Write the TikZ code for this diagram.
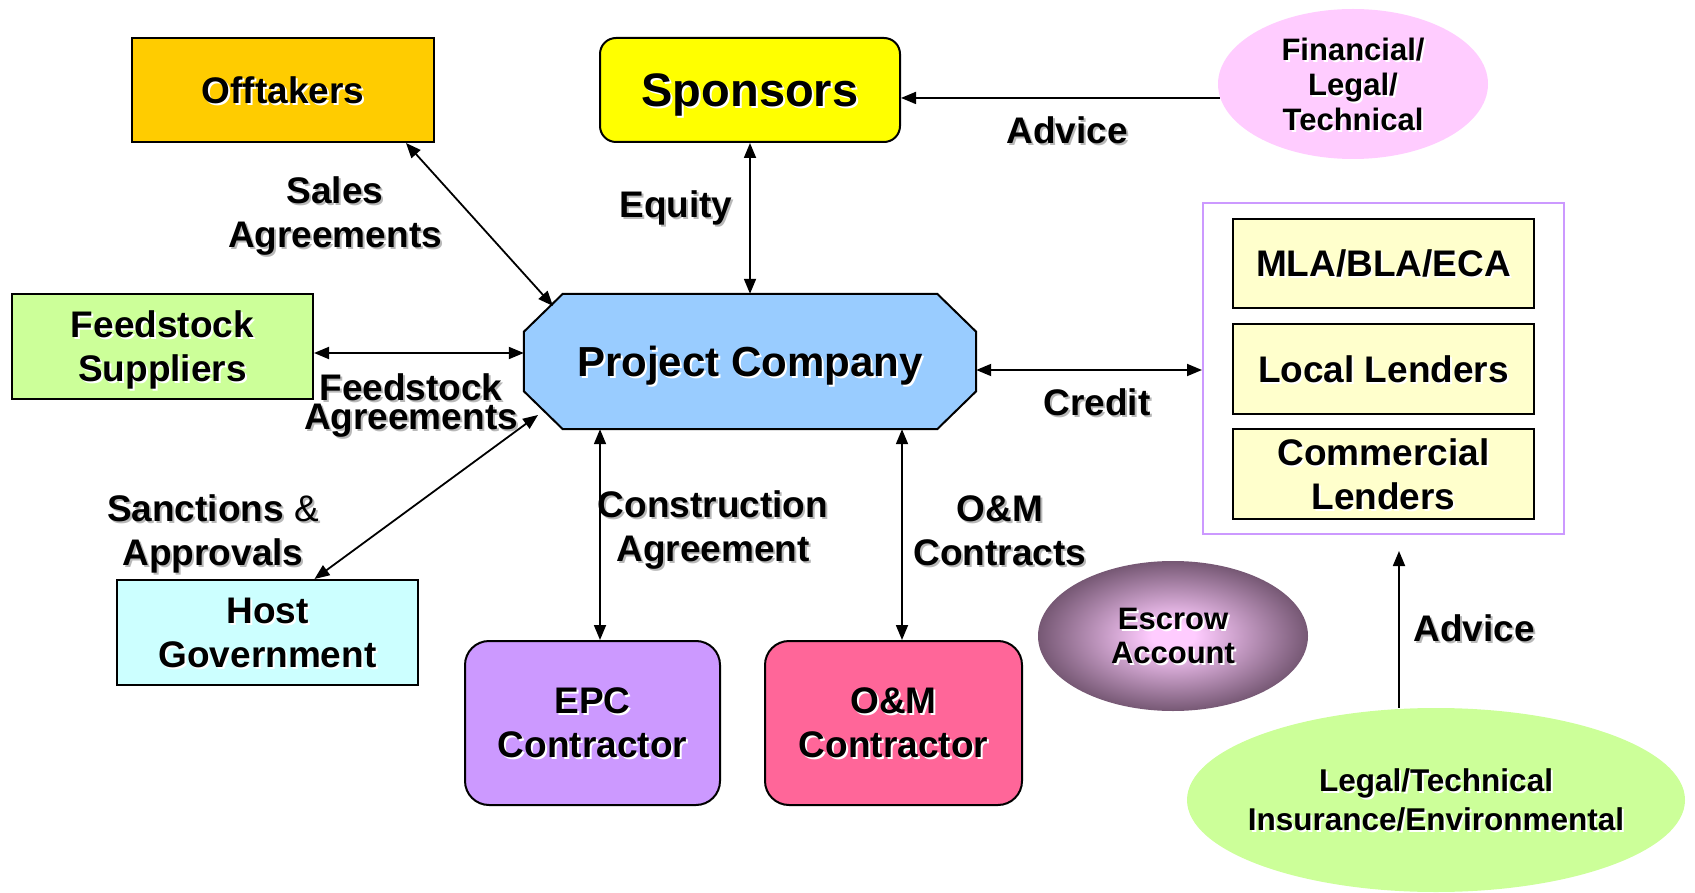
\documentclass[tikz,border=0pt]{standalone}
\usepackage{fontspec}
\setmainfont{Liberation Sans}
\usetikzlibrary{arrows.meta,shapes.geometric}

\definecolor{offc}{HTML}{FFCC00}
\definecolor{sponc}{HTML}{FFFF00}
\definecolor{finc}{HTML}{FFCCFF}
\definecolor{pcc}{HTML}{99CCFF}
\definecolor{feedc}{HTML}{CCFF99}
\definecolor{hostc}{HTML}{CCFFFF}
\definecolor{epcc}{HTML}{CC99FF}
\definecolor{omc}{HTML}{FF6699}
\definecolor{lendc}{HTML}{FFFFCC}
\definecolor{framec}{HTML}{CC99FF}
\definecolor{escin}{HTML}{FFCCFF}
\definecolor{escout}{HTML}{765874}
\definecolor{legalc}{HTML}{CCFF99}
\colorlet{txtshadow}{black!28}

% radial glow for the escrow ellipse
\pgfdeclareradialshading{escrowglow}{\pgfpoint{0bp}{0bp}}{%
  color(0bp)=(escin); color(4bp)=(escin); color(25bp)=(escout); color(50bp)=(escout)}

% text with a soft drop shadow
\newcommand\sh[1]{\leavevmode\rlap{\kern2pt\raisebox{-2pt}{\color{txtshadow}#1}}#1}

\begin{document}
\begin{tikzpicture}[x=1pt,y=-1pt,
  base/.style={font=\bfseries\fontsize{37}{44}\selectfont, align=center, inner sep=0pt, text=black},
  boxed/.style={base, draw=black, line width=2pt, text depth=0pt,
    execute at begin node={\colorlet{txtshadow}{white}}},
  blob/.style={base, ellipse, draw=none, text depth=0pt,
    execute at begin node={\colorlet{txtshadow}{white}}},
  inside/.style={base, text depth=0pt,
    execute at begin node={\colorlet{txtshadow}{white}}},
  lbl/.style={base},
  tip/.tip={Triangle[length=15pt,width=12pt]},
  both/.style={line width=1.8pt, tip-tip},
  one/.style={line width=1.8pt, -tip}]

\useasboundingbox (0,0) rectangle (1695,893);

% ---- parties ----
\node[boxed, fill=offc, minimum width=302, minimum height=104] (off) at (283,90) {\sh{Offtakers}};
\node[boxed, fill=sponc, rounded corners=16, minimum width=300, minimum height=104,
      font=\bfseries\fontsize{47}{52}\selectfont] (spon) at (750,90) {\sh{Sponsors}};
\node[blob, fill=finc, minimum width=270, minimum height=150,
      font=\bfseries\fontsize{31}{35}\selectfont] (fin) at (1353,84) {\sh{Financial/}\\\sh{Legal/}\\\sh{Technical}};

% project company: octagon around a plain frame node
\node[minimum width=452, minimum height=135, inner sep=0pt] (pc) at (750,361.5) {};
\draw[fill=pcc, line width=2pt]
  ([xshift=39pt]pc.north west) -- ([xshift=-39pt]pc.north east)
  -- ([yshift=-38pt]pc.north east) -- ([yshift=38pt]pc.south east)
  -- ([xshift=-39pt]pc.south east) -- ([xshift=39pt]pc.south west)
  -- ([yshift=38pt]pc.south west) -- ([yshift=-38pt]pc.north west) -- cycle;
\node[inside, font=\bfseries\fontsize{42}{48}\selectfont] (pctext) at (pc.center) {\sh{Project Company}};

\node[boxed, fill=feedc, minimum width=301, minimum height=105] (feed) at (162.5,346.5) {\sh{Feedstock}\\\sh{Suppliers}};
\node[boxed, fill=hostc, minimum width=301, minimum height=105] (host) at (267.5,632.5) {\sh{Host}\\\sh{Government}};
\node[boxed, fill=epcc, rounded corners=24, minimum width=255, minimum height=164] (epc) at (592.5,723) {\sh{EPC}\\\sh{Contractor}};
\node[boxed, fill=omc, rounded corners=24, minimum width=257, minimum height=164] (om) at (893.5,723) {\sh{O\&M}\\\sh{Contractor}};

% ---- lenders group ----
\node[draw=framec, line width=2pt, minimum width=361, minimum height=331, inner sep=0pt] (lbox) at (1383.5,368.5) {};
\node[boxed, fill=lendc, minimum width=301, minimum height=89] (mla) at (1383.5,263.5) {\sh{MLA/BLA/ECA}};
\node[boxed, fill=lendc, minimum width=301, minimum height=90] (local) at (1383.5,369) {\sh{Local Lenders}};
\node[boxed, fill=lendc, minimum width=301, minimum height=90] (comm) at (1383.5,474) {\sh{Commercial}\\\sh{Lenders}};

% ---- advisers and escrow ----
\node[blob, shading=escrowglow, minimum width=270, minimum height=150,
      font=\bfseries\fontsize{31}{34}\selectfont] (esc) at (1173,636) {\sh{Escrow}\\\sh{Account}};
\node[blob, fill=legalc, minimum width=498, minimum height=184] (legal) at (1436,800) {};
\node[inside, font=\bfseries\fontsize{31.5}{39}\selectfont] (legaltext) at (legal.center)
  {\sh{Legal/Technical}\\\sh{Insurance/Environmental}};

% ---- connector labels ----
\node[lbl] (salesl) at (335,217) {\sh{Sales}\\\sh{Agreements}};
\node[lbl] (equityl) at (676,209) {\sh{Equity}};
\node[lbl] (advl) at (1067,131) {\sh{Advice}};
\node[lbl, font=\bfseries\fontsize{37}{29}\selectfont] (feedl) at (411,406.5) {\sh{Feedstock}\\\sh{Agreements}};
\node[lbl] (creditl) at (1097,403) {\sh{Credit}};
\node[lbl] (sancl) at (213,535) {\sh{Sanctions {\mdseries\&}}\\\sh{Approvals}};
\node[lbl] (constl) at (713,531.5) {\sh{Construction}\\\sh{Agreement}};
\node[lbl] (omcl) at (1000,531.5) {\sh{O\&M}\\\sh{Contracts}};
\node[lbl] (adv2l) at (1474,629) {\sh{Advice}};

% ---- connectors ----
\coordinate (pcul) at (553,306);
\coordinate (pcll) at (538,415);
\draw[both] ([xshift=-29pt]off.south east) -- (pcul);
\draw[both] (spon.south) -- (pc.north);
\draw[one] (fin.186) -- (fin.186 -| spon.east);
\draw[both] ([yshift=-6.5pt]feed.east) -- ([yshift=-6.5pt]feed.east -| pc.west);
\draw[both] (pcll) -- ([xshift=47pt]host.north);
\draw[both] ([xshift=7.5pt]epc.north |- pc.south) -- ([xshift=7.5pt]epc.north);
\draw[both] ([xshift=8.5pt]om.north |- pc.south) -- ([xshift=8.5pt]om.north);
\draw[both] ([yshift=-8.5pt]pc.east) -- ([yshift=-8.5pt]pc.east -| lbox.west);
\coordinate (advtip) at (1399,551);
\draw[one] (advtip |- legal.north) -- (advtip);

\end{tikzpicture}
\end{document}
